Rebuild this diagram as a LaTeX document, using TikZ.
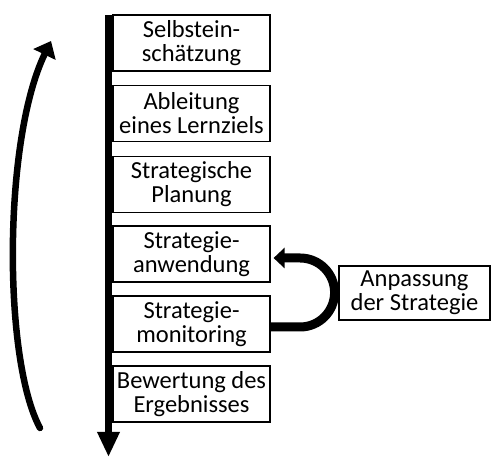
\documentclass[tikz,border=0pt]{standalone}
\usepackage{fontspec}
\setmainfont{Carlito}
\usetikzlibrary{arrows.meta}
\begin{document}
\begin{tikzpicture}[x=1pt,y=-1pt,
  box/.style={draw=black, line width=1.2pt, minimum width=157pt, minimum height=56pt,
    inner sep=0pt, align=center, font=\fontsize{24.5}{24}\selectfont},
  mainarrow/.style={line width=7pt, -{Triangle[length=25pt,width=21pt]}},
  looparrow/.style={line width=6.5pt, line cap=round, -{Triangle[length=15pt,width=24pt]}},
  fbarrow/.style={line width=9pt, -{Triangle[length=11pt,width=20pt]}}]
\useasboundingbox (0,0) rectangle (491,457);
% main axis
\coordinate (vtop) at (108.5,15);
\coordinate (vbot) at (108.5,457);
\draw[mainarrow] (vtop) -- (vbot);
% boxes
\node[box] (s1) at (191.5,43) {Selbstein-\\schätzung};
\node[box] (s2) at (191.5,113.5) {Ableitung\\eines Lernziels};
\node[box] (s3) at (191.5,184.5) {Strategische\\Planung};
\node[box] (s4) at (191.5,254) {Strategie-\\anwendung};
\node[box] (s5) at (191.5,324) {Strategie-\\monitoring};
\node[box] (s6) at (191.5,394) {Bewertung des\\Ergebnisses};
\node[box, minimum width=151pt, minimum height=54pt] (an) at (414.5,293) {Anpassung\\der Strategie};
% feedback loop
\draw[fbarrow] ([yshift=-3pt]s5.east) -- ++(29.5pt,0)
  arc[start angle=-90, end angle=90, radius=34.5pt]
  -- ([xshift=3pt,yshift=-4pt]s4.east);
% left curved arrow
\coordinate (cs) at (40,428);
\coordinate (ce) at (51,41);
\draw[looparrow] (cs) .. controls (3,360) and (3,140) .. (ce);
\end{tikzpicture}
\end{document}
